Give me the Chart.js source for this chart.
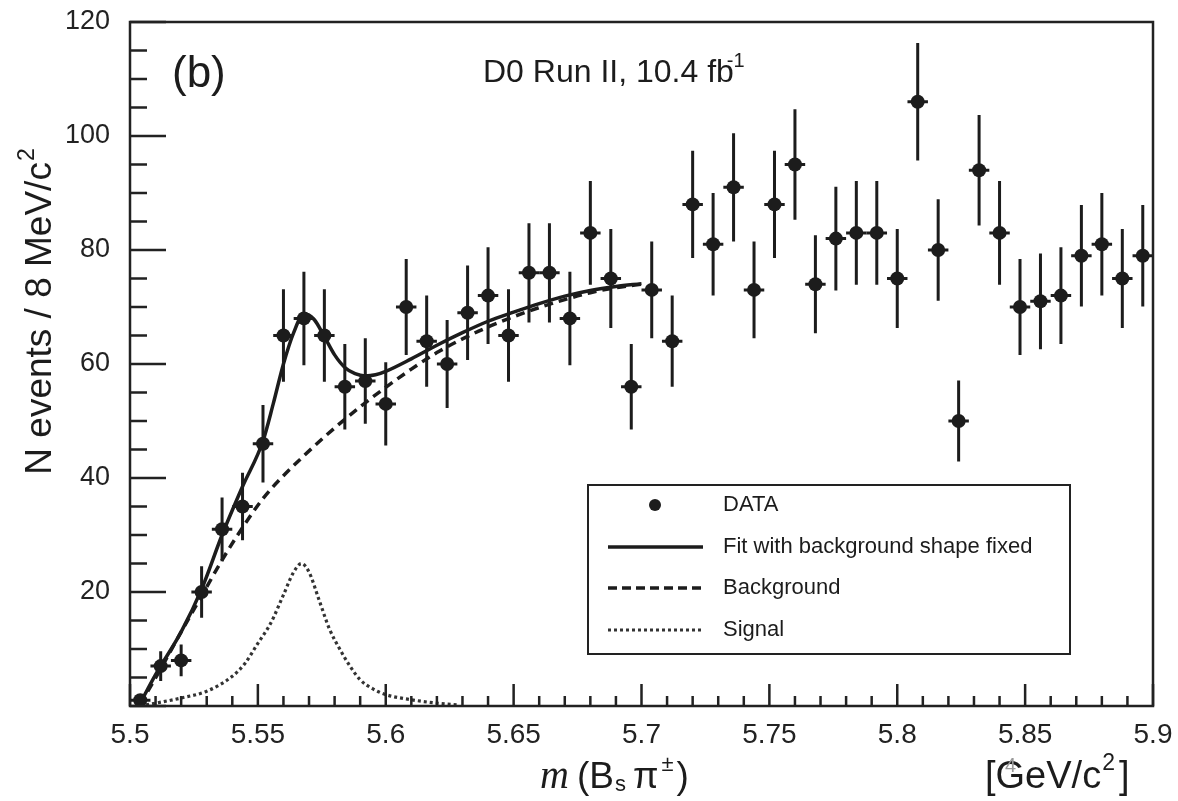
<!DOCTYPE html>
<html>
<head>
<meta charset="utf-8">
<script src="https://cdn.jsdelivr.net/npm/chart.js@4.4.1/dist/chart.umd.min.js"></script>
<style>
  body { margin: 0; background: #fff; }
  canvas { display: block; }
</style>
</head>
<body>
<canvas id="massPlot" width="1178" height="801"></canvas>
<script>
// bin centres (GeV/c^2), 8 MeV bins
const massBins = [5.504, 5.512, 5.520, 5.528, 5.536, 5.544, 5.552, 5.560, 5.568, 5.576,
                  5.584, 5.592, 5.600, 5.608, 5.616, 5.624, 5.632, 5.640, 5.648, 5.656,
                  5.664, 5.672, 5.680, 5.688, 5.696, 5.704, 5.712, 5.720, 5.728, 5.736,
                  5.744, 5.752, 5.760, 5.768, 5.776, 5.784, 5.792, 5.800, 5.808, 5.816,
                  5.824, 5.832, 5.840, 5.848, 5.856, 5.864, 5.872, 5.880, 5.888, 5.896];
const eventCounts = [1, 7, 8, 20, 31, 35, 46, 65, 68, 65,
                     56, 57, 53, 70, 64, 60, 69, 72, 65, 76,
                     76, 68, 83, 75, 56, 73, 64, 88, 81, 91,
                     73, 88, 95, 74, 82, 83, 83, 75, 106, 80,
                     50, 94, 83, 70, 71, 72, 79, 81, 75, 79];
const countErrors = [1.0, 2.6, 2.8, 4.5, 5.6, 5.9, 6.8, 8.1, 8.2, 8.1,
                     7.5, 7.5, 7.3, 8.4, 8.0, 7.7, 8.3, 8.5, 8.1, 8.7,
                     8.7, 8.2, 9.1, 8.7, 7.5, 8.5, 8.0, 9.4, 9.0, 9.5,
                     8.5, 9.4, 9.7, 8.6, 9.1, 9.1, 9.1, 8.7, 10.3, 8.9,
                     7.1, 9.7, 9.1, 8.4, 8.4, 8.5, 8.9, 9.0, 8.7, 8.9];
const binHalfWidth = 0.004;

// fit curve (signal + background)
const fitMass = [5.504, 5.510, 5.520, 5.528, 5.536, 5.544, 5.552, 5.556, 5.560, 5.564,
                 5.568, 5.572, 5.576, 5.580, 5.584, 5.588, 5.592, 5.596, 5.600, 5.610,
                 5.620, 5.630, 5.640, 5.650, 5.660, 5.670, 5.680, 5.690, 5.700];
const fitValues = [0.5, 5.5, 13, 20.5, 30, 38.5, 46.5, 53, 60, 65.5,
                   68.8, 67.8, 64.8, 61.6, 59.4, 58.3, 57.9, 58.1, 58.7, 60.9,
                   63.3, 65.5, 67.5, 69.1, 70.6, 71.9, 72.9, 73.6, 74.1];

// background shape
const bgMass = [5.504, 5.512, 5.520, 5.528, 5.536, 5.544, 5.552, 5.560, 5.568, 5.576,
                5.584, 5.592, 5.600, 5.610, 5.620, 5.630, 5.640, 5.650, 5.660, 5.670,
                5.680, 5.690, 5.700];
const bgValues = [0.3, 6.5, 13, 19.3, 25.6, 31.3, 36.4, 40.4, 43.9, 47.2,
                  50.3, 53.2, 55.9, 59.1, 62, 64.4, 66.5, 68.3, 69.9, 71.3,
                  72.5, 73.4, 74];

// signal shape
const sigMass = [5.504, 5.510, 5.520, 5.530, 5.540, 5.545, 5.550, 5.555, 5.560, 5.564,
                 5.567, 5.570, 5.574, 5.578, 5.582, 5.586, 5.590, 5.595, 5.600, 5.610,
                 5.620, 5.628];
const sigValues = [0, 0.5, 1.4, 2.6, 5.2, 7.5, 11, 14.5, 19.5, 23.5,
                   25, 23.5, 18.5, 13.5, 10, 7, 4.6, 3, 2, 1.1,
                   0.5, 0.2];

const xTickLabels = ['5.5', '5.55', '5.6', '5.65', '5.7', '5.75', '5.8', '5.85', '5.9'];
const yTickLabels = ['', '20', '40', '60', '80', '100', '120'];

const legendLabels = ['DATA', 'Fit with background shape fixed', 'Background', 'Signal'];

const ink = '#1c1c1c';
const sans = "'Liberation Sans', Arial, Helvetica, sans-serif";

function toPoints(xs, ys) {
    return xs.map((x, i) => ({ x: x, y: ys[i] }));
}

// frame, inward ticks, error bars, legend and labels
const decorations = {
    id: 'decorations',
    beforeDatasetsDraw(chart) {
        const ctx = chart.ctx;
        const xs = chart.scales.x, ys = chart.scales.y;
        ctx.save();
        ctx.strokeStyle = ink;
        ctx.lineWidth = 3;
        for (let i = 0; i < massBins.length; i++) {
            const px = xs.getPixelForValue(massBins[i]);
            const py = ys.getPixelForValue(eventCounts[i]);
            ctx.beginPath();
            ctx.moveTo(px, ys.getPixelForValue(eventCounts[i] - countErrors[i]));
            ctx.lineTo(px, ys.getPixelForValue(eventCounts[i] + countErrors[i]));
            ctx.moveTo(xs.getPixelForValue(massBins[i] - binHalfWidth), py);
            ctx.lineTo(xs.getPixelForValue(massBins[i] + binHalfWidth), py);
            ctx.stroke();
        }
        ctx.restore();
    },
    afterDraw(chart) {
        const ctx = chart.ctx;
        const a = chart.chartArea;
        const xs = chart.scales.x, ys = chart.scales.y;
        ctx.save();

        // frame
        ctx.strokeStyle = '#222';
        ctx.lineWidth = 2.5;
        ctx.strokeRect(a.left, a.top, a.right - a.left, a.bottom - a.top);

        // y ticks (inward)
        ctx.lineWidth = 2.5;
        ctx.beginPath();
        for (let v = 0; v <= 120; v += 5) {
            const py = ys.getPixelForValue(v);
            const len = v % 20 === 0 ? 36 : 17;
            ctx.moveTo(a.left, py);
            ctx.lineTo(a.left + len, py);
        }
        // x ticks (inward)
        for (let k = 0; k <= 40; k++) {
            const px = xs.getPixelForValue(5.5 + k * 0.01);
            const len = k % 5 === 0 ? 22 : 10;
            ctx.moveTo(px, a.bottom);
            ctx.lineTo(px, a.bottom - len);
        }
        ctx.stroke();

        // legend
        const lx = 588, ly = 485, lw = 482, lh = 169;
        ctx.fillStyle = '#fff';
        ctx.fillRect(lx, ly, lw, lh);
        ctx.strokeStyle = '#222';
        ctx.lineWidth = 2;
        ctx.strokeRect(lx, ly, lw, lh);
        const rows = [505, 547, 588, 630];
        ctx.fillStyle = ink;
        ctx.font = '22px ' + sans;
        ctx.textBaseline = 'middle';
        ctx.textAlign = 'left';
        legendLabels.forEach((t, i) => ctx.fillText(t, 723, rows[i]));
        ctx.beginPath();
        ctx.arc(655, rows[0], 6, 0, Math.PI * 2);
        ctx.fill();
        ctx.strokeStyle = ink;
        ctx.lineWidth = 3.5;
        ctx.setLineDash([]);
        ctx.beginPath(); ctx.moveTo(608, rows[1]); ctx.lineTo(703, rows[1]); ctx.stroke();
        ctx.setLineDash([9, 5]);
        ctx.beginPath(); ctx.moveTo(608, rows[2]); ctx.lineTo(703, rows[2]); ctx.stroke();
        ctx.strokeStyle = '#333';
        ctx.lineWidth = 3;
        ctx.setLineDash([3, 3]);
        ctx.beginPath(); ctx.moveTo(608, rows[3]); ctx.lineTo(703, rows[3]); ctx.stroke();
        ctx.setLineDash([]);

        // panel label and run info
        ctx.fillStyle = ink;
        ctx.textBaseline = 'alphabetic';
        ctx.font = '44px ' + sans;
        ctx.fillText('(b)', 172, 87);
        ctx.font = '32px ' + sans;
        const runText = 'D0 Run II, 10.4 fb';
        ctx.fillText(runText, 483, 82);
        const rw = ctx.measureText(runText).width;
        ctx.font = '20px ' + sans;
        ctx.fillText('-1', 483 + rw - 7, 67);

        // y axis title
        ctx.save();
        ctx.translate(38, 312);
        ctx.rotate(-Math.PI / 2);
        ctx.font = '37px ' + sans;
        const yTitle = 'N events / 8 MeV/c';
        const w1 = ctx.measureText(yTitle).width;
        ctx.font = '23px ' + sans;
        const w2 = ctx.measureText('2').width;
        const start = -(w1 + w2) / 2;
        ctx.font = '37px ' + sans;
        ctx.fillText(yTitle, start, 13);
        ctx.font = '23px ' + sans;
        ctx.fillText('2', start + w1 + 1, -4);
        ctx.restore();

        // x axis title: m (Bs pi±)
        let x = 540;
        const base = 788;
        ctx.font = "italic 40px 'Liberation Serif', 'Times New Roman', serif";
        ctx.fillText('m', x, base);
        x += ctx.measureText('m').width + 8;
        ctx.font = '37px ' + sans;
        ctx.fillText('(B', x, base);
        x += ctx.measureText('(B').width + 1;
        ctx.font = '22px ' + sans;
        ctx.fillText('s', x, base + 3);
        x += ctx.measureText('s').width + 7;
        ctx.font = '37px ' + sans;
        ctx.fillText('\u03c0', x, base);
        x += ctx.measureText('\u03c0').width + 3;
        ctx.font = '22px ' + sans;
        ctx.fillText('\u00b1', x, base - 17);
        x += ctx.measureText('\u00b1').width + 3;
        ctx.font = '37px ' + sans;
        ctx.fillText(')', x, base);

        // unit
        x = 985;
        ctx.font = '38px ' + sans;
        ctx.fillText('[GeV/c', x, base);
        x += ctx.measureText('[GeV/c').width;
        ctx.font = '23px ' + sans;
        ctx.fillText('2', x + 1, base - 18);
        x += ctx.measureText('2').width + 5;
        ctx.font = '38px ' + sans;
        ctx.fillText(']', x, base);
        ctx.fillStyle = '#999';
        ctx.font = '20px ' + sans;
        ctx.fillText('4', 1005, 772);

        ctx.restore();
    }
};

const ctx = document.getElementById('massPlot').getContext('2d');

const massChart = new Chart(ctx, {
    type: 'scatter',
    data: {
        datasets: [
            {
                label: 'DATA',
                data: toPoints(massBins, eventCounts),
                pointRadius: 7,
                pointHoverRadius: 7,
                pointBackgroundColor: ink,
                pointBorderColor: ink,
                pointBorderWidth: 0,
                showLine: false,
                order: 0
            },
            {
                label: 'Fit with background shape fixed',
                data: toPoints(fitMass, fitValues),
                showLine: true,
                borderColor: ink,
                borderWidth: 3.5,
                pointRadius: 0,
                cubicInterpolationMode: 'monotone',
                order: 1
            },
            {
                label: 'Background',
                data: toPoints(bgMass, bgValues),
                showLine: true,
                borderColor: ink,
                borderWidth: 3.5,
                borderDash: [9, 6],
                pointRadius: 0,
                cubicInterpolationMode: 'monotone',
                order: 2
            },
            {
                label: 'Signal',
                data: toPoints(sigMass, sigValues),
                showLine: true,
                borderColor: '#333',
                borderWidth: 3.2,
                borderDash: [3, 3],
                pointRadius: 0,
                cubicInterpolationMode: 'monotone',
                order: 3
            }
        ]
    },
    options: {
        responsive: false,
        animation: false,
        devicePixelRatio: 1,
        layout: { padding: { top: 22, right: 25, left: 0, bottom: 0 } },
        plugins: {
            legend: { display: false },
            tooltip: { enabled: false }
        },
        scales: {
            x: {
                type: 'linear',
                min: 5.5,
                max: 5.9,
                border: { display: false },
                grid: { display: false, drawTicks: false },
                ticks: {
                    stepSize: 0.05,
                    padding: 12,
                    color: '#222',
                    font: { family: sans, size: 28 },
                    maxRotation: 0,
                    callback: (v, i) => xTickLabels[i]
                },
                afterFit: (scale) => {
                    scale.height = 95;
                    scale.paddingLeft = 0;
                    scale.paddingRight = 0;
                }
            },
            y: {
                min: 0,
                max: 120,
                border: { display: false },
                grid: { display: false, drawTicks: false },
                ticks: {
                    stepSize: 20,
                    padding: 20,
                    color: '#222',
                    font: { family: sans, size: 27 },
                    callback: (v, i) => yTickLabels[i]
                },
                afterFit: (scale) => {
                    scale.width = 130;
                    scale.paddingTop = 0;
                    scale.paddingBottom = 0;
                }
            }
        }
    },
    plugins: [decorations]
});
</script>
</body>
</html>
